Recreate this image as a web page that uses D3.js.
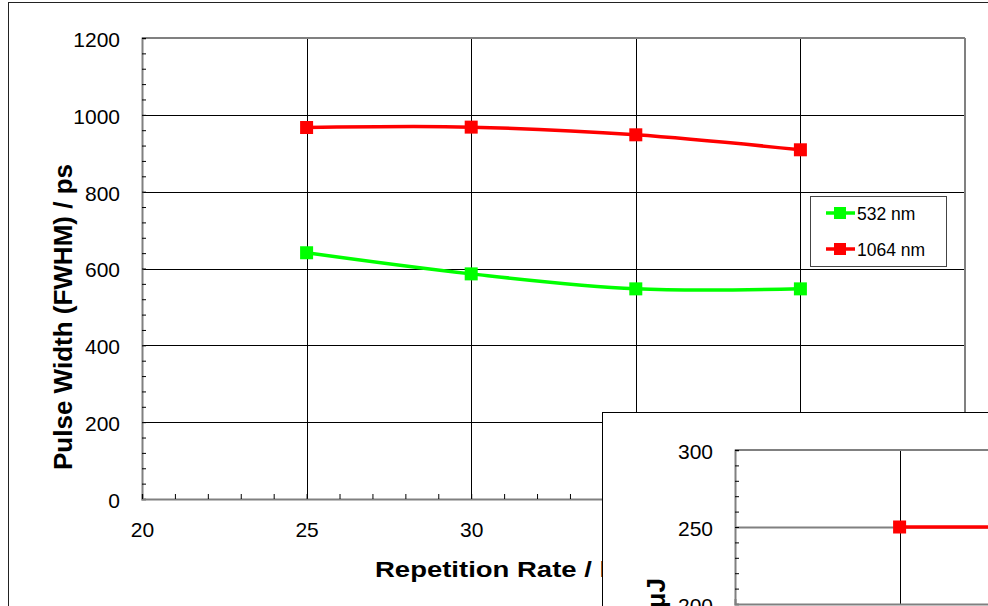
<!DOCTYPE html>
<html><head><meta charset="utf-8">
<script src="https://cdn.jsdelivr.net/npm/d3@7"></script>
<style>body{margin:0;background:#fff}svg{display:block}text{font-family:"Liberation Sans",Arial,sans-serif;fill:#000}</style>
</head><body><svg id="c" width="988" height="606"></svg>
<script>
// ---- data ----
const repRates = [25, 30, 35, 40];
const pulse532 = [641, 586, 547, 547];
const pulse1064 = [967, 968, 948, 909];
const xTickValues = [20, 25, 30, 35, 40, 45];
const yTickValues = [0, 200, 400, 600, 800, 1000, 1200];
const seriesNames = ["532 nm", "1064 nm"];
const seriesColors = ["#00ff00", "#ff0000"];
const insetRepRates = [25, 30];
const insetEnergy1064 = [250, 250];
const insetYTicks = [200, 250, 300];

const svg = d3.select("#c");
svg.append("rect").attr("width", 988).attr("height", 606).attr("fill", "#fff");
svg.append("rect").attr("x", 8.5).attr("y", 2.5).attr("width", 1200).attr("height", 800)
  .attr("fill", "none").attr("stroke", "#222").attr("stroke-width", 1);

function drawPlot(root, x, y, opts) {
  const [x0, x1] = x.range();
  const [yb, yt] = y.range();
  const g = root.append("g");
  g.selectAll(".hg").data(opts.hGrid).join("line")
    .attr("x1", x0).attr("x2", x1)
    .attr("y1", d => Math.round(y(d)) + 0.5).attr("y2", d => Math.round(y(d)) + 0.5)
    .attr("stroke", opts.hGridColor).attr("stroke-width", opts.hGridWidth);
  g.selectAll(".vg").data(opts.vGrid).join("line")
    .attr("y1", yt).attr("y2", yb)
    .attr("x1", d => Math.round(x(d)) + 0.5).attr("x2", d => Math.round(x(d)) + 0.5)
    .attr("stroke", "#000").attr("stroke-width", 1);
  g.append("line").attr("x1", x0).attr("x2", x1).attr("y1", yt).attr("y2", yt).attr("stroke", "#808080").attr("stroke-width", 2);
  g.append("line").attr("x1", x1).attr("x2", x1).attr("y1", yt).attr("y2", yb).attr("stroke", "#808080").attr("stroke-width", 2);
  const ya = g.append("g").attr("transform", `translate(${x0},0)`)
    .call(d3.axisLeft(y).tickValues(opts.yMinor).tickSize(-4).tickFormat(""));
  ya.select(".domain").attr("stroke", "#808080").attr("stroke-width", 2);
  ya.selectAll(".tick line").attr("stroke", "#000");
  const xa = g.append("g").attr("transform", `translate(0,${yb})`)
    .call(d3.axisBottom(x).tickValues(opts.xMinor).tickSize(-5).tickFormat(""));
  xa.select(".domain").attr("stroke", "#808080").attr("stroke-width", 2);
  xa.selectAll(".tick line").attr("stroke", "#000");
  const yl = g.append("g").attr("transform", `translate(${x0},0)`)
    .call(d3.axisLeft(y).tickValues(opts.yTicks).tickSize(0).tickPadding(22).tickFormat(d3.format("d")));
  yl.select(".domain").remove();
  yl.selectAll("text").attr("font-size", 21).attr("dy", "0.4em").attr("font-family", "Liberation Sans, Arial, sans-serif");
  const xl = g.append("g").attr("transform", `translate(0,${yb})`)
    .call(d3.axisBottom(x).tickValues(opts.xTicks).tickSize(0).tickPadding(23).tickFormat(d3.format("d")));
  xl.select(".domain").remove();
  xl.selectAll("text").attr("font-size", 21).attr("font-family", "Liberation Sans, Arial, sans-serif");
  return g;
}

function drawSeries(g, x, y, xs, ys, color) {
  const pts = xs.map((v, i) => [v, ys[i]]);
  const line = d3.line().x(d => x(d[0])).y(d => y(d[1])).curve(d3.curveCardinal.tension(0));
  g.append("path").attr("d", line(pts)).attr("fill", "none").attr("stroke", color).attr("stroke-width", 3.5);
  g.selectAll(null).data(pts).join("rect")
    .attr("x", d => x(d[0]) - 6.5).attr("y", d => y(d[1]) - 6.5)
    .attr("width", 13).attr("height", 13).attr("fill", color);
}

// ---- main chart ----
const x = d3.scaleLinear().domain([20, 45]).range([142, 965]);
const y = d3.scaleLinear().domain([0, 1200]).range([499, 38]);
const main = drawPlot(svg, x, y, {
  hGrid: yTickValues.filter(v => v > 0 && v < 1200), hGridColor: "#000", hGridWidth: 1,
  vGrid: xTickValues.filter(v => v > 20 && v < 45),
  yMinor: d3.range(0, 1201, 40), xMinor: d3.range(20, 46, 1),
  yTicks: yTickValues, xTicks: xTickValues
});
drawSeries(main, x, y, repRates, pulse532, seriesColors[0]);
drawSeries(main, x, y, repRates, pulse1064, seriesColors[1]);

svg.append("text").attr("transform", "translate(72,317) rotate(-90)").attr("text-anchor", "middle")
  .attr("font-size", 26).attr("font-weight", "bold").text("Pulse Width (FWHM) / ps");
svg.append("text").attr("transform", "translate(375,577) scale(1.25,1)")
  .attr("font-size", 22).attr("font-weight", "bold").text("Repetition Rate / kHz");

// legend
const lg = svg.append("g");
lg.append("rect").attr("x", 810.5).attr("y", 196.5).attr("width", 136).attr("height", 70)
  .attr("fill", "#fff").attr("stroke", "#444").attr("stroke-width", 1);
seriesNames.forEach((name, i) => {
  const cy = 213 + i * 36;
  lg.append("line").attr("x1", 826).attr("x2", 855).attr("y1", cy).attr("y2", cy)
    .attr("stroke", seriesColors[i]).attr("stroke-width", 3.5);
  lg.append("rect").attr("x", 834).attr("y", cy - 6).attr("width", 12).attr("height", 12).attr("fill", seriesColors[i]);
  lg.append("text").attr("x", 857).attr("y", cy + 7).attr("font-size", 17.5).text(name);
});

// ---- inset chart ----
svg.append("rect").attr("x", 602.5).attr("y", 412.5).attr("width", 600).attr("height", 400)
  .attr("fill", "#fff").attr("stroke", "#000").attr("stroke-width", 1);
const ix = d3.scaleLinear().domain([20, 45]).range([735, 1558]);
const iy = d3.scaleLinear().domain([200, 300]).range([604, 450]);
const inset = drawPlot(svg, ix, iy, {
  hGrid: [250], hGridColor: "#808080", hGridWidth: 2,
  vGrid: xTickValues.filter(v => v > 20 && v < 45),
  yMinor: d3.range(200, 301, 10), xMinor: [],
  yTicks: insetYTicks, xTicks: []
});
drawSeries(inset, ix, iy, insetRepRates, insetEnergy1064, seriesColors[1]);
svg.append("text").attr("transform", "translate(665,578) rotate(-90)").attr("text-anchor", "end")
  .attr("font-size", 26).attr("font-weight", "bold").text("Pulse Energy / μJ");
</script></body></html>
